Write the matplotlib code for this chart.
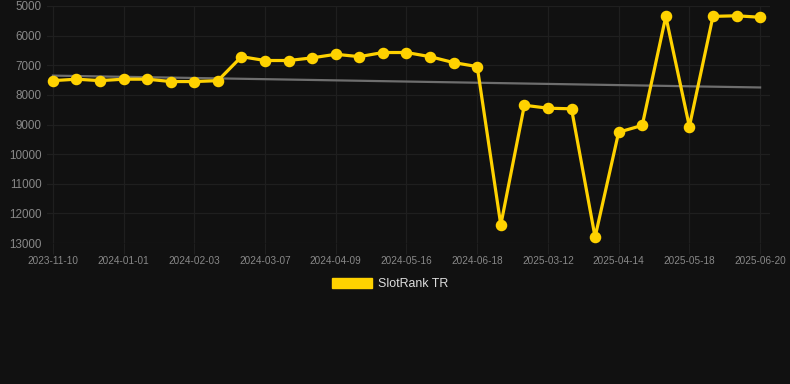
import matplotlib.pyplot as plt
from matplotlib.patches import Patch

plt.rcParams['font.family'] = ['Liberation Sans', 'DejaVu Sans']

# rank values, one per sampled date (y axis is inverted: lower rank number = higher)
ranks = [7520, 7470, 7520, 7470, 7470, 7550, 7550, 7520, 6710, 6840,
         6840, 6750, 6630, 6710, 6570, 6570, 6710, 6910, 7045, 12390,
         8350, 8450, 8470, 12800, 9260, 9030, 5350, 9070, 5350, 5330,
         5380]
tick_labels = ['2023-11-10', '2024-01-01', '2024-02-03', '2024-03-07',
               '2024-04-09', '2024-05-16', '2024-06-18', '2025-03-12',
               '2025-04-14', '2025-05-18', '2025-06-20']
tick_every = 3
trend_ends = [7350, 7750]
y_ticks = [5000, 6000, 7000, 8000, 9000, 10000, 11000, 12000, 13000]

bg = '#111111'
gold = '#FFD200'

fig = plt.figure(figsize=(7.9, 3.84), dpi=100)
fig.patch.set_facecolor(bg)
ax = fig.add_axes([47 / 790, 1 - 243 / 384, 723 / 790, 237 / 384])
ax.set_facecolor(bg)

x = list(range(len(ranks)))
ax.plot([x[0], x[-1]], trend_ends, color='#6e6e6e', lw=1.6, zorder=2)
ax.plot(x, ranks, color=gold, lw=2.3, marker='o', markersize=7.3, zorder=3)

ax.set_xlim(-0.25, 30.42)
ax.set_ylim(13000, 5000)
ax.set_yticks(y_ticks)
ax.set_yticklabels([str(v) for v in y_ticks])
ax.set_xticks(x[::tick_every])
ax.set_xticklabels(tick_labels)

ax.grid(True, color='#1f1f1f', lw=0.9)
for s in ax.spines.values():
    s.set_visible(False)
ax.tick_params(axis='y', length=0, pad=4, labelsize=8.4, colors='#888888')
ax.tick_params(axis='x', length=8, color='#1f1f1f', pad=1.5, labelsize=7.2,
               labelcolor='#888888')

leg = fig.legend(handles=[Patch(facecolor=gold, edgecolor=gold, label='SlotRank TR')],
                 loc='center', bbox_to_anchor=(390 / 790, 1 - 284 / 384),
                 frameon=False, fontsize=8.9, handlelength=3.2, handleheight=0.9,
                 handletextpad=0.5)
for t in leg.get_texts():
    t.set_color('#dddddd')

fig.savefig('out.png', dpi=100, facecolor=bg)
